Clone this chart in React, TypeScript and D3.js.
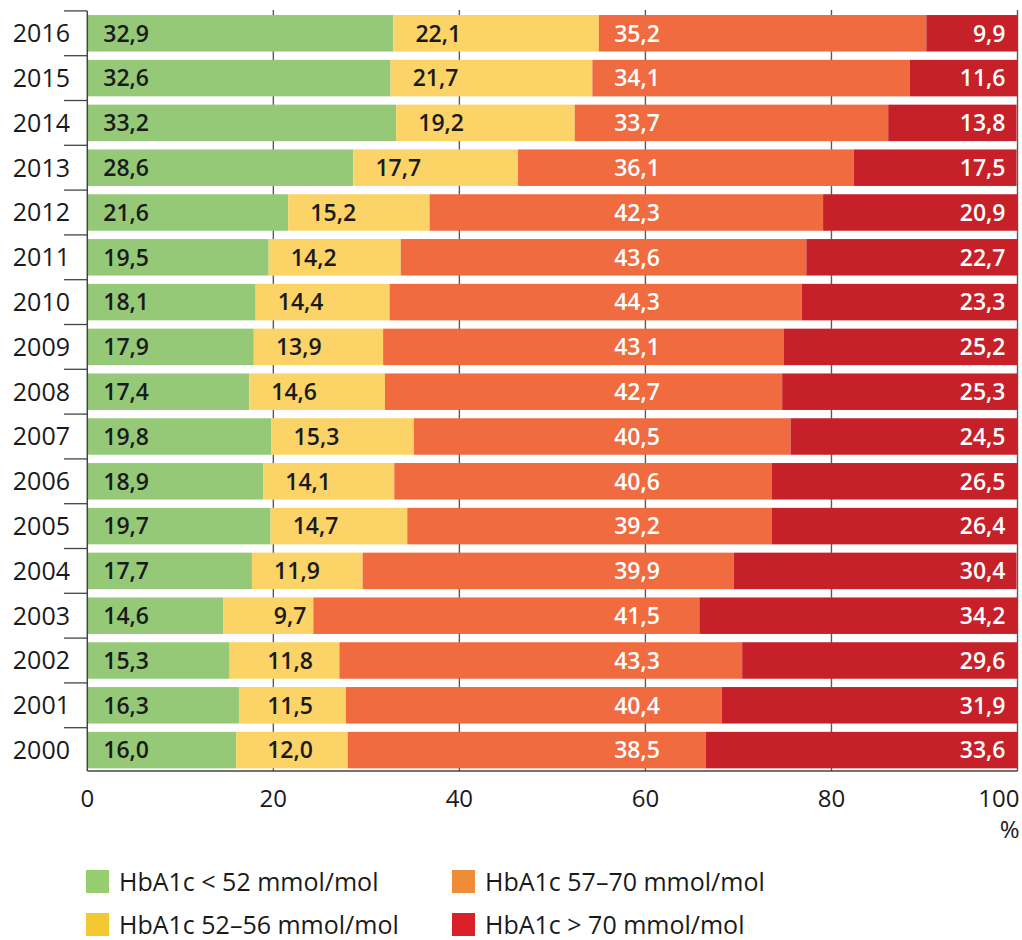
import React from "react";
import * as d3 from "d3";

const years = ["2016","2015","2014","2013","2012","2011","2010","2009","2008","2007","2006","2005","2004","2003","2002","2001","2000"];
const lt52 = [32.9,32.6,33.2,28.6,21.6,19.5,18.1,17.9,17.4,19.8,18.9,19.7,17.7,14.6,15.3,16.3,16.0];
const r52to56 = [22.1,21.7,19.2,17.7,15.2,14.2,14.4,13.9,14.6,15.3,14.1,14.7,11.9,9.7,11.8,11.5,12.0];
const r57to70 = [35.2,34.1,33.7,36.1,42.3,43.6,44.3,43.1,42.7,40.5,40.6,39.2,39.9,41.5,43.3,40.4,38.5];
const gt70 = [9.9,11.6,13.8,17.5,20.9,22.7,23.3,25.2,25.3,24.5,26.5,26.4,30.4,34.2,29.6,31.9,33.6];
const xTicks = [0,20,40,60,80,100];

const seriesKeys = ["lt52","r52to56","r57to70","gt70"];
const seriesLabels = ["HbA1c < 52 mmol/mol","HbA1c 52–56 mmol/mol","HbA1c 57–70 mmol/mol","HbA1c > 70 mmol/mol"];
const barColors = ["#95c977","#fbd366","#f06b40","#c62029"];
const legendColors = ["#95cd6f","#f4c832","#ef8c37","#d8212b"];
const labelColors = ["#1a1a1a","#1a1a1a","#ffffff","#ffffff"];

const FONT = "'Open Sans', 'DejaVu Sans', sans-serif";
const fmt = (v: number) => d3.format(".1f")(v).replace(".", ",");

export default function App() {
  const W = 1022, H = 940;
  const x = d3.scaleLinear().domain([0, 100]).range([87.3, 1017.5]);
  const step = 44.8;
  const y = d3.scaleBand<string>().domain(years).range([10.9, 10.9 + step * years.length]).paddingInner(0.185).paddingOuter(0.0925);
  const bw = y.bandwidth();
  const axisY = 771;

  const table = years.map((yr, i) => ({ year: yr, lt52: lt52[i], r52to56: r52to56[i], r57to70: r57to70[i], gt70: gt70[i] }));
  const stacked = d3.stack<any>().keys(seriesKeys)(table);

  const boundaries = years.map((yr) => (y(yr) as number) - (y.step() * y.paddingInner()) / 2);

  return (
    <svg width={W} height={H} style={{ position: "absolute", left: 0, top: 0, background: "#fff" }} fontFamily={FONT}>
      {/* vertical grid lines */}
      {xTicks.filter((t) => t > 0).map((t) => (
        <line key={"g" + t} x1={x(t)} x2={x(t)} y1={10} y2={axisY} stroke="#5a5a5a" strokeWidth={1.4} />
      ))}
      {/* bars */}
      {stacked.map((s, si) => (
        <g key={s.key} fill={barColors[si]}>
          {s.map((d, i) => {
            const x0 = x(Math.min(d[0], 100));
            const x1 = x(Math.min(d[1], 100));
            return <rect key={i} x={x0} y={y(years[i])} width={Math.max(0, x1 - x0)} height={bw} />;
          })}
        </g>
      ))}
      {/* value labels */}
      {stacked.map((s, si) => (
        <g key={"l" + s.key} fill={labelColors[si]} fontSize={23} fontWeight={600}>
          {s.map((d, i) => {
            const v = d[1] - d[0];
            const cy = (y(years[i]) as number) + bw / 2 + 8.2;
            let tx = 0;
            let anchor: "start" | "middle" | "end" = "middle";
            if (si === 0) { tx = x(0) + 16; anchor = "start"; }
            else if (si === 1) {
              const start = x(d[0]);
              const center = (x(d[0]) + x(d[1])) / 2;
              tx = Math.max(Math.min(center, start + 45), x(21.8));
            } else if (si === 2) { tx = x(59.1); }
            else { tx = x(100) - 12; anchor = "end"; }
            return <text key={i} x={tx} y={cy} textAnchor={anchor}>{fmt(v)}</text>;
          })}
        </g>
      ))}
      {/* left axis */}
      <line x1={x(0)} x2={x(0)} y1={boundaries[0]} y2={axisY} stroke="#444" strokeWidth={1.5} />
      {boundaries.map((b, i) => (
        <line key={"yt" + i} x1={64} x2={x(0)} y1={b} y2={b} stroke="#444" strokeWidth={1.3} />
      ))}
      {years.map((yr) => (
        <text key={"yl" + yr} x={70} y={(y(yr) as number) + bw / 2 + 8.8} textAnchor="end" fontSize={25} fontWeight={500} fill="#1a1a1a">{yr}</text>
      ))}
      {/* bottom axis */}
      <line x1={x(0)} x2={x(100)} y1={axisY} y2={axisY} stroke="#444" strokeWidth={1.6} />
      {xTicks.map((t) => (
        <text key={"xt" + t} x={t === 100 ? x(100) + 2 : x(t)} y={807} textAnchor={t === 100 ? "end" : "middle"} fontSize={24} fontWeight={500} fill="#1a1a1a">{t}</text>
      ))}
      <text x={x(100) + 2} y={838} textAnchor="end" fontSize={24} fontWeight={500} fill="#1a1a1a">%</text>
      {/* legend */}
      {seriesLabels.map((lab, i) => {
        const col = i < 2 ? 0 : 1;
        const row = i % 2;
        const lx = col === 0 ? 86 : 452;
        const ly = 870 + row * 43;
        return (
          <g key={"lg" + i}>
            <rect x={lx} y={ly} width={23} height={23} fill={legendColors[i]} />
            <text x={lx + 33} y={ly + 20.5} fontSize={25} fill="#1a1a1a">{lab}</text>
          </g>
        );
      })}
    </svg>
  );
}
